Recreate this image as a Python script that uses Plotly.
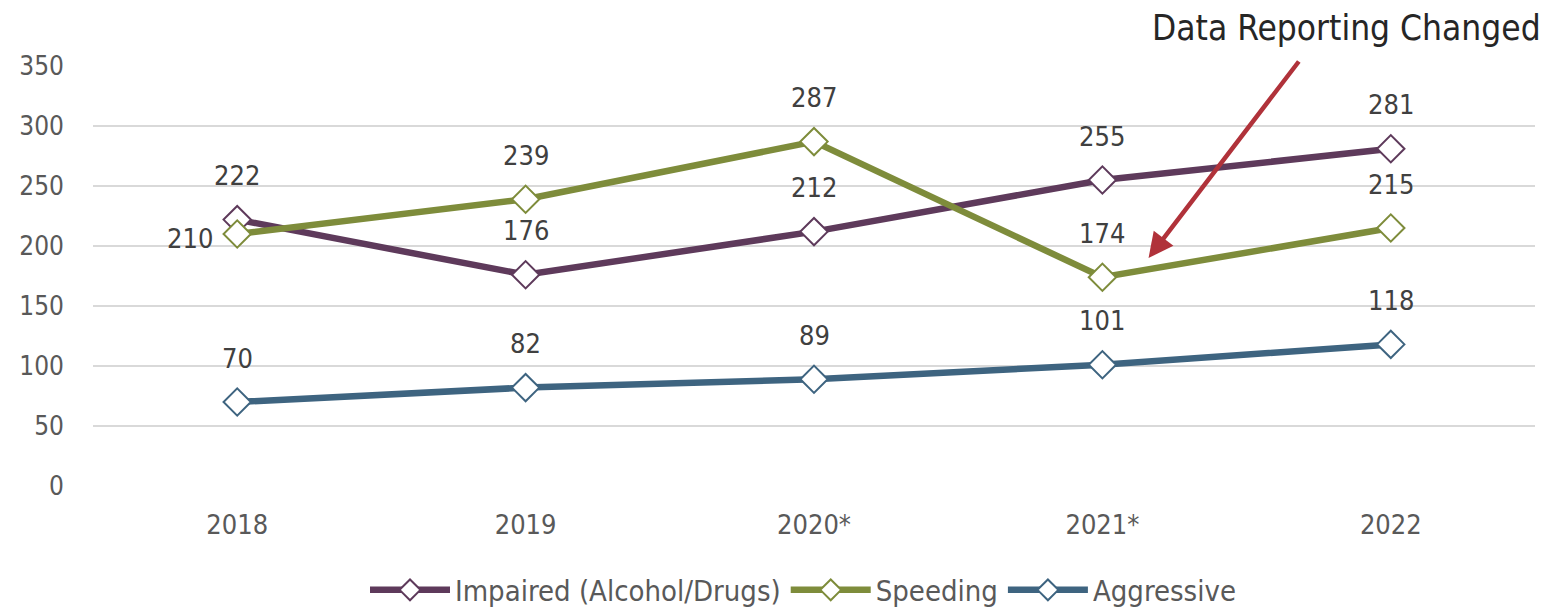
import plotly.graph_objects as go

years = ["2018", "2019", "2020*", "2021*", "2022"]
impaired = [222, 176, 212, 255, 281]
speeding = [210, 239, 287, 174, 215]
aggressive = [70, 82, 89, 101, 118]

series = [
    ("Impaired (Alcohol/Drugs)", impaired, "#5E3A5B"),
    ("Speeding", speeding, "#7E8C3B"),
    ("Aggressive", aggressive, "#3E6480"),
]

FONT = "DejaVu Sans Condensed, DejaVu Sans, sans-serif"
W, H = 1550, 609
ML, MR, MT, MB = 93, 15, 66, 123
pw, ph = W - ML - MR, H - MT - MB

fig = go.Figure()
for name, vals, col in series:
    fig.add_trace(go.Scatter(
        x=years, y=vals, name=name, mode="lines+markers",
        line=dict(color=col, width=6.5),
        marker=dict(symbol="diamond", size=21, color="white",
                    line=dict(color=col, width=2)),
    ))

annotations = []
for name, vals, col in series:
    for i, v in enumerate(vals):
        if name == "Speeding" and i == 0:
            annotations.append(dict(x=i, y=v, xref="x", yref="y", text=str(v), showarrow=False,
                                    xanchor="right", xshift=-22, yshift=-4,
                                    font=dict(size=27, color="#404040", family=FONT)))
        else:
            annotations.append(dict(x=i, y=v, xref="x", yref="y", text=str(v), showarrow=False,
                                    yshift=44,
                                    font=dict(size=27, color="#404040", family=FONT)))

# arrow
annotations.append(dict(x=3.16, y=190, ax=3.685, ay=355, xref="x", yref="y",
                        axref="x", ayref="y", showarrow=True, arrowhead=2,
                        arrowsize=1.1, arrowwidth=4.5, arrowcolor="#B0323A", text=""))
annotations.append(dict(x=(1346 - ML) / pw, y=(486 - 28) / ph, xref="paper", yref="paper",
                        xanchor="center", yanchor="middle", text="Data Reporting Changed",
                        showarrow=False, font=dict(size=35, color="#262626", family=FONT)))

fig.update_layout(
    width=W, height=H,
    margin=dict(l=ML, r=MR, t=MT, b=MB, autoexpand=False),
    paper_bgcolor="white", plot_bgcolor="white",
    font=dict(family=FONT, color="#595959", size=26),
    showlegend=True,
    legend=dict(orientation="h", x=(803 - ML) / pw, xanchor="center",
                y=-(590 - 486) / ph, yanchor="middle", itemwidth=80,
                font=dict(size=29, color="#595959"), tracegroupgap=0),
    annotations=annotations,
    xaxis=dict(type="category", range=[-0.5, 4.5], showgrid=False, showline=False, ticks="",
               automargin=False, ticklabelstandoff=20, tickfont=dict(size=27, color="#595959")),
    yaxis=dict(range=[0, 350], dtick=50, showgrid=True, gridcolor="#D9D9D9",
               automargin=False, gridwidth=2, zeroline=False, ticks="", ticklabelstandoff=28,
               tickfont=dict(size=26, color="#595959")),
)
fig.write_html("out.html")
